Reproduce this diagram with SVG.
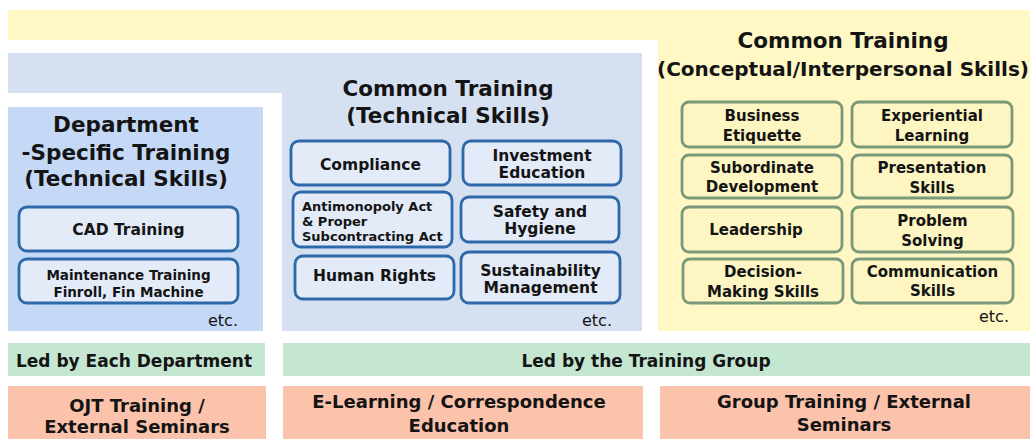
<svg xmlns="http://www.w3.org/2000/svg" width="1030" height="439" viewBox="0 0 1030 439">
<style>
text{font-family:"DejaVu Sans","Liberation Sans",sans-serif;fill:#141414}
.t{font-weight:bold;font-size:21.5px;text-anchor:middle}
.b{font-weight:bold;font-size:15.5px;text-anchor:middle}
.s{font-weight:bold;font-size:13.5px;text-anchor:middle}
.a{font-weight:bold;font-size:13px}
.c{font-weight:bold;font-size:15px;text-anchor:middle}
.g{font-weight:bold;font-size:17px;text-anchor:middle}
.o{font-weight:bold;font-size:18px;text-anchor:middle}
.e{font-size:16px;text-anchor:end}
.bb{fill:#e3ebf8;stroke:#2d68a9;stroke-width:2.8}
.yb{fill:#fdf6c3;stroke:#7a987a;stroke-width:2.8}
</style>
<rect width="1030" height="439" fill="#ffffff"/>
<g id="backgrounds">
<path d="M8 10H1030V331H658V40H8Z" fill="#fff8c4"/>
<path d="M8 53H642V331H282V93H8Z" fill="#d5e0f1"/>
<rect x="8" y="107" width="255" height="224" fill="#c5d9f6"/>
<rect x="8" y="343" width="257" height="33" fill="#c5e6d1"/>
<rect x="283" y="343" width="747" height="33" fill="#c5e6d1"/>
<rect x="8" y="386" width="258" height="53" fill="#fbc3ab"/>
<rect x="283" y="386" width="360" height="53" fill="#fbc3ab"/>
<rect x="660" y="386" width="370" height="53" fill="#fbc3ab"/>
</g>
<g id="dept">
<text class="t" x="126" y="132">Department</text>
<text class="t" x="126" y="159.5">-Specific Training</text>
<text class="t" x="126" y="186">(Technical Skills)</text>
<text class="e" x="238" y="326">etc.</text>
</g>
<g id="cad"><rect class="bb" x="19" y="207" width="219" height="44" rx="8"/><text class="b" x="128.5" y="234.5">CAD Training</text></g>
<g id="maint"><rect class="bb" x="19" y="259" width="219" height="44" rx="8"/><text class="s" x="128.5" y="280">Maintenance Training</text><text class="s" x="128.5" y="297">Finroll, Fin Machine</text></g>
<g id="tech">
<text class="t" x="448" y="96">Common Training</text>
<text class="t" x="448" y="123">(Technical Skills)</text>
<text class="e" x="612" y="326">etc.</text>
</g>
<g id="compliance"><rect class="bb" x="291" y="141" width="159" height="44" rx="8"/><text class="b" x="370.5" y="170">Compliance</text></g>
<g id="investment"><rect class="bb" x="463" y="141" width="158" height="44" rx="8"/><text class="b" x="542" y="160.5">Investment</text><text class="b" x="542" y="177.5">Education</text></g>
<g id="antimonopoly"><rect class="bb" x="293" y="192" width="159" height="55" rx="8"/><text class="a" x="302" y="210.5">Antimonopoly Act</text><text class="a" x="302" y="226">&amp; Proper</text><text class="a" x="302" y="240.5">Subcontracting Act</text></g>
<g id="safety"><rect class="bb" x="461" y="197" width="158" height="45" rx="8"/><text class="b" x="540" y="217">Safety and</text><text class="b" x="540" y="234">Hygiene</text></g>
<g id="humanrights"><rect class="bb" x="295" y="256" width="159" height="43" rx="8"/><text class="b" x="374.5" y="281">Human Rights</text></g>
<g id="sustainability"><rect class="bb" x="461" y="252" width="159" height="51" rx="8"/><text class="b" x="540.5" y="276">Sustainability</text><text class="b" x="540.5" y="293">Management</text></g>
<g id="concept">
<text class="t" x="843" y="48">Common Training</text>
<text class="t" x="843" y="76" style="font-size:20px">(Conceptual/Interpersonal Skills)</text>
<text class="e" x="1009" y="322">etc.</text>
</g>
<g id="business"><rect class="yb" x="682" y="102" width="160" height="45" rx="7"/><text class="c" x="762" y="121">Business</text><text class="c" x="762" y="141">Etiquette</text></g>
<g id="experiential"><rect class="yb" x="852" y="102" width="160" height="45" rx="7"/><text class="c" x="932" y="121">Experiential</text><text class="c" x="932" y="141">Learning</text></g>
<g id="subordinate"><rect class="yb" x="682" y="155" width="160" height="43" rx="7"/><text class="c" x="762" y="172.5">Subordinate</text><text class="c" x="762" y="191.5">Development</text></g>
<g id="presentation"><rect class="yb" x="852" y="155" width="160" height="43" rx="7"/><text class="c" x="932" y="173">Presentation</text><text class="c" x="932" y="193">Skills</text></g>
<g id="leadership"><rect class="yb" x="682" y="207" width="160" height="45" rx="7"/><text class="c" x="756" y="235">Leadership</text></g>
<g id="problem"><rect class="yb" x="852" y="207" width="161" height="45" rx="7"/><text class="c" x="932.5" y="226">Problem</text><text class="c" x="932.5" y="246">Solving</text></g>
<g id="decision"><rect class="yb" x="683" y="259" width="160" height="44" rx="7"/><text class="c" x="763" y="277">Decision-</text><text class="c" x="763" y="297">Making Skills</text></g>
<g id="communication"><rect class="yb" x="852" y="259" width="161" height="44" rx="7"/><text class="c" x="932.5" y="277">Communication</text><text class="c" x="932.5" y="296">Skills</text></g>
<g id="led-dept"><text class="g" x="134" y="366.5">Led by Each Department</text></g>
<g id="led-group"><text class="g" x="646" y="366.5">Led by the Training Group</text></g>
<g id="ojt"><text class="o" x="137" y="411.5">OJT Training /</text><text class="o" x="137" y="433">External Seminars</text></g>
<g id="elearning"><text class="o" x="459" y="408">E-Learning / Correspondence</text><text class="o" x="459" y="431.5">Education</text></g>
<g id="grouptraining"><text class="o" x="844" y="408">Group Training / External</text><text class="o" x="844" y="431">Seminars</text></g>
<g id="connectors"/>
</svg>
